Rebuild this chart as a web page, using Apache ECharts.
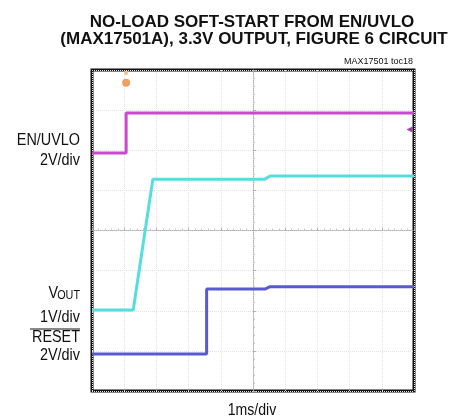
<!DOCTYPE html>
<html><head><meta charset="utf-8">
<script src="https://cdn.jsdelivr.net/npm/echarts@6/dist/echarts.min.js"></script>
<style>html,body{margin:0;padding:0;background:#fff}#c{width:464px;height:419px}</style>
</head><body><div id="c"></div>
<script>
// x in divisions (1 ms/div) relative to screen centre, y in divisions relative to screen centre
const enX = [-5, -3.94, -3.94, 5];
const enY = [1.93, 1.93, 2.93, 2.93];
const voutX = [-5, -3.72, -3.11, 0.37, 0.53, 5];
const voutY = [-1.98, -1.98, 1.28, 1.28, 1.36, 1.36];
const resetX = [-5, -1.44, -1.44, 0.37, 0.53, 5];
const resetY = [-3.08, -3.08, -1.46, -1.46, -1.40, -1.40];
const triggerMark = [-3.94, 3.68];
const triggerTop = [-3.94, 3.93];
const enGndMark = [4.86, 2.52];
const xRange = [-5, 5];
const yRange = [-4, 4];

const pts = (xs, ys) => xs.map((x, i) => [x, ys[i]]);
const F = 'Liberation Sans, Arial, sans-serif';
const chart = echarts.init(document.getElementById('c'), null, {renderer: 'canvas'});
const axisCommon = {
  type: 'value', interval: 1,
  axisLine: {show: true, onZero: true, lineStyle: {color: '#b0b0b0', type: 'dotted', width: 1}},
  axisTick: {show: true, inside: true, length: 3, lineStyle: {color: '#b0b0b0'}},
  minorTick: {show: true, splitNumber: 5, length: 2, lineStyle: {color: '#c4c4c4'}},
  axisLabel: {show: false},
  splitLine: {show: true, lineStyle: {color: '#e2e2e2', type: 'dotted', width: 1}}
};
const txt = (text, x, y, size, opts) => Object.assign({
  type: 'text', x: x, y: y,
  style: Object.assign({text: text, font: (opts && opts.bold ? 'bold ' : '') + size + 'px ' + F,
    fill: '#111', textAlign: 'right', textVerticalAlign: 'middle'}, opts && opts.style)
}, opts && opts.el);
const narrow = {el: {scaleX: 0.9}};
chart.setOption({
  animation: false,
  grid: {left: 92, top: 70, width: 322, height: 321, show: true, borderColor: '#111', borderWidth: 3, backgroundColor: '#fff'},
  xAxis: Object.assign({}, axisCommon, {min: xRange[0], max: xRange[1]}),
  yAxis: Object.assign({}, axisCommon, {min: yRange[0], max: yRange[1]}),
  series: [
    {type: 'line', data: pts(enX, enY), symbol: 'none', lineStyle: {color: '#cc48cc', width: 3},
     markPoint: {label: {show: false}, data: [
       {coord: triggerMark, symbol: 'circle', symbolSize: 8, itemStyle: {color: '#f0a060'}},
       {coord: triggerTop, symbol: 'rect', symbolSize: [3, 4], itemStyle: {color: '#f4b880'}},
       {coord: enGndMark, symbol: 'triangle', symbolRotate: 90, symbolSize: 6, itemStyle: {color: '#a040a0'}}
     ]}},
    {type: 'line', data: pts(voutX, voutY), symbol: 'none', lineStyle: {color: '#55dede', width: 3}},
    {type: 'line', data: pts(resetX, resetY), symbol: 'none', lineStyle: {color: '#5a5ad0', width: 3}}
  ],
  graphic: [
    txt('NO-LOAD SOFT-START FROM EN/UVLO', 252, 22, 17, {bold: true, style: {textAlign: 'center'}}),
    txt('(MAX17501A), 3.3V OUTPUT, FIGURE 6 CIRCUIT', 254, 39, 17, {bold: true, style: {textAlign: 'center'}}),
    txt('MAX17501 toc18', 413, 62, 9, {}),
    txt('EN/UVLO', 80, 141, 16, narrow),
    txt('2V/div', 80, 161, 16, narrow),
    txt('V', 58, 294, 16, narrow),
    txt('OUT', 80, 296, 12, narrow),
    txt('1V/div', 80, 318, 16, narrow),
    txt('RESET', 80, 338, 16, narrow),
    {type: 'line', shape: {x1: 30, y1: 329, x2: 80, y2: 329}, style: {stroke: '#111', lineWidth: 1}},
    txt('2V/div', 80, 356, 16, narrow),
    txt('1ms/div', 252, 411, 16, {style: {textAlign: 'center'}, el: {scaleX: 0.88}})
  ]
});
</script></body></html>
